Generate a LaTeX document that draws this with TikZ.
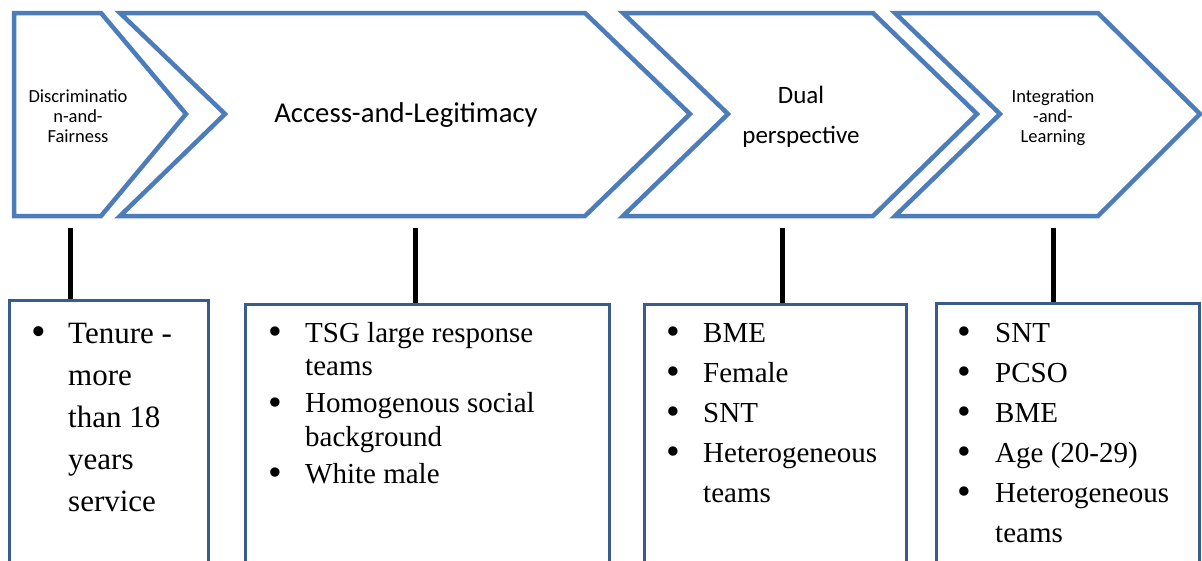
\documentclass[tikz,border=0pt]{standalone}
\usepackage{fontspec}
\setmainfont{Liberation Serif}
\newfontfamily\calib{Carlito}
\definecolor{chevblue}{RGB}{76,124,185}
\definecolor{boxblue}{RGB}{56,93,138}
\newcommand{\bul}{\raisebox{-2.5pt}{\scalebox{1.35}{\textbullet}}}
\begin{document}
\begin{tikzpicture}[x=1pt,y=-1pt,
  chev/.style={draw=chevblue,line width=4.5pt,line join=miter,fill=white},
  boxstyle/.style={draw=boxblue,line width=3pt,fill=white,anchor=north west,inner sep=0pt},
  conn/.style={draw=black,line width=5pt},
  smalltxt/.style={font=\calib\fontsize{18.5}{20}\selectfont,align=center,inner sep=0pt},
  bigtxt/.style={font=\calib\fontsize{25}{40}\selectfont,align=center,inner sep=0pt},
  list/.style={anchor=base west,inner sep=0pt,align=left}]
\useasboundingbox (0,0) rectangle (1202,560);
\clip (0,0) rectangle (1202,560);
% chevrons
\draw[chev] (14,13) -- (101,13) -- (186,114) -- (101,216) -- (14,216) -- cycle;
\draw[chev] (120,13) -- (585,13) -- (690,114) -- (585,216) -- (120,216) -- (225,114) -- cycle;
\draw[chev] (623,13) -- (873,13) -- (977,114) -- (873,216) -- (623,216) -- (728,114) -- cycle;
\draw[chev] (895,13) -- (1098,13) -- (1200,114) -- (1098,216) -- (895,216) -- (1000,114) -- cycle;
% chevron labels
\node[smalltxt,anchor=base] (l1) at (78,142) {Discriminatio\\n-and-\\Fairness};
\node[font=\calib\fontsize{28.7}{32}\selectfont,inner sep=0pt,anchor=base] (l2) at (406,122) {Access-and-Legitimacy};
\node[bigtxt,anchor=base] (l3) at (801,143) {Dual\\perspective};
\node[smalltxt,anchor=base] (l4) at (1053,142) {Integration\\-and-\\Learning};
% boxes
\node[boxstyle,minimum width=199pt,minimum height=300pt] (b1) at (8,299) {};
\node[boxstyle,minimum width=364pt,minimum height=300pt] (b2) at (244,303) {};
\node[boxstyle,minimum width=262pt,minimum height=300pt] (b3) at (643,303) {};
\node[boxstyle,minimum width=263pt,minimum height=300pt] (b4) at (935,302) {};
% connector ends
\coordinate (c1) at (70,228);
\coordinate (c2) at (415,228);
\coordinate (c3) at (782,228);
\coordinate (c4) at (1053,228);
\draw[conn] (c1) -- (c1 |- b1.north);
\draw[conn] (c2) -- (c2 |- b2.north);
\draw[conn] (c3) -- (c3 |- b3.north);
\draw[conn] (c4) -- (c4 |- b4.north);
% lists
\node[list,font=\fontsize{31}{42}\selectfont] (t1) at (31,343)
 {\begin{tabular}[t]{@{}l@{}l@{}}\makebox[37pt][l]{\bul}&Tenure -\\&more\\&than 18\\&years\\&service\end{tabular}};
\node[list,font=\fontsize{29}{33.5}\selectfont] (t2) at (268,342)
 {\begin{tabular}[t]{@{}l@{}l@{}}\makebox[37pt][l]{\bul}&TSG large response\\&teams\\[3.5pt]
 \bul&Homogenous social\\&background\\[3.5pt]\bul&White male\end{tabular}};
\node[list,font=\fontsize{29}{40}\selectfont] (t3) at (666,342)
 {\begin{tabular}[t]{@{}l@{}l@{}}\makebox[37pt][l]{\bul}&BME\\\bul&Female\\\bul&SNT\\\bul&Heterogeneous\\&teams\end{tabular}};
\node[list,font=\fontsize{29}{40}\selectfont] (t4) at (957,342)
 {\begin{tabular}[t]{@{}l@{}l@{}}\makebox[38pt][l]{\bul}&SNT\\\bul&PCSO\\\bul&BME\\\bul&Age (20-29)\\\bul&Heterogeneous\\&teams\end{tabular}};
\end{tikzpicture}
\end{document}
